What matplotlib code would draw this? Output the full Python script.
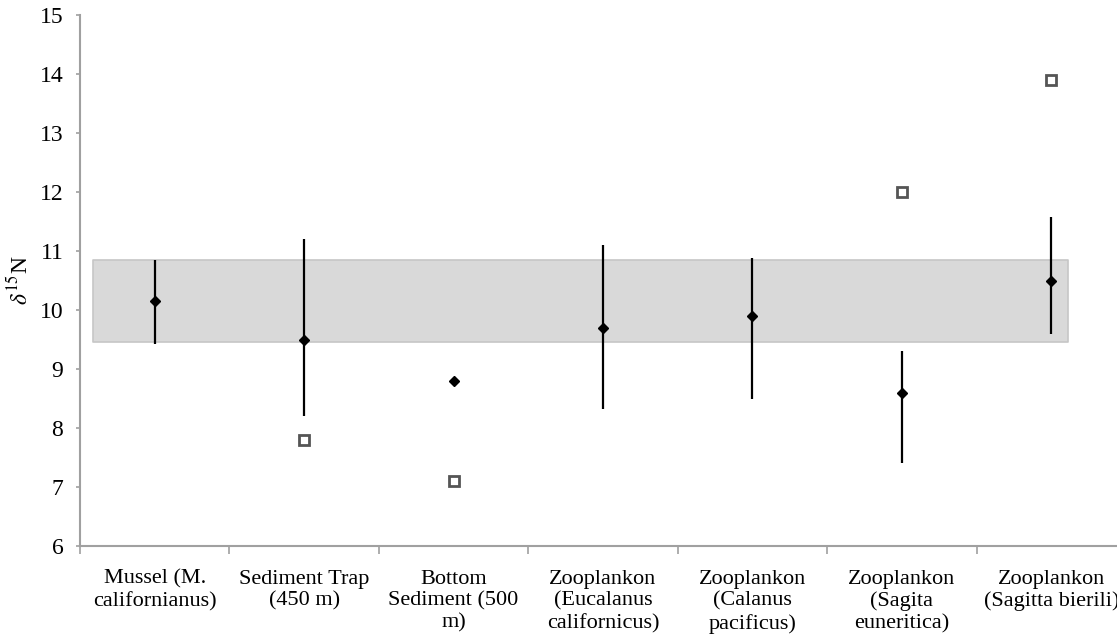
import matplotlib
matplotlib.use("Agg")
import matplotlib.pyplot as plt
import numpy as np

plt.rcParams['font.family'] = ['Liberation Serif', 'DejaVu Serif']
plt.rcParams['mathtext.fontset'] = 'stix'

categories = [
    "Mussel (M.\ncalifornianus)",
    "Sediment Trap\n(450 m)",
    "Bottom\nSediment (500\nm)",
    "Zooplankon\n(Eucalanus\ncalifornicus)",
    "Zooplankon\n(Calanus\npacificus)",
    "Zooplankon\n(Sagita\neuneritica)",
    "Zooplankon\n(Sagitta bierili)",
]
mean_values = [10.15, 9.5, 8.8, 9.7, 9.9, 8.6, 10.5]
err_low = [9.42, 8.2, 8.8, 8.32, 8.5, 7.4, 9.6]
err_high = [10.85, 11.2, 8.8, 11.1, 10.88, 9.3, 11.58]
other_idx = [1, 2, 5, 6]
other_values = [7.8, 7.1, 12.0, 13.9]
band_low, band_high = 9.45, 10.85
band_x = [-0.41, 6.11]
y_ticks = list(range(6, 16))

fig = plt.figure(figsize=(11.17, 6.4), dpi=100)
ax = fig.add_axes([80 / 1117, 94 / 640, 1046 / 1117, 531 / 640])

x = np.arange(len(categories))

ax.fill_between(band_x, band_low, band_high, facecolor='#d9d9d9',
                edgecolor='#c6c6c6', linewidth=1.2, zorder=1)

ax.vlines(x, err_low, err_high, colors='black', linewidth=1.6, zorder=2)
ax.plot(x, mean_values, linestyle='none', marker='D', markersize=5.5,
        color='black', zorder=3)
ax.plot(other_idx, other_values, linestyle='none', marker='s', markersize=7,
        markerfacecolor='white', markeredgecolor='#555555',
        markeredgewidth=2, zorder=3)

ax.set_xlim(-0.5, len(categories) - 0.5)
ax.set_ylim(6, 15)
ax.set_yticks(y_ticks)
ax.set_yticklabels([str(v) for v in y_ticks], fontsize=17)

ax.set_xticks(x)
ax.set_xticklabels(categories, fontsize=16, linespacing=1.2)
ax.set_xticks(np.arange(len(categories) + 1) - 0.5, minor=True)
ax.tick_params(axis='x', which='major', length=0, pad=17)
ax.tick_params(axis='x', which='minor', length=6, width=1.2, color='#a0a0a0')
ax.tick_params(axis='y', length=3, width=1.2, color='#a0a0a0', pad=9)

for side in ('top', 'right'):
    ax.spines[side].set_visible(False)
for side in ('left', 'bottom'):
    ax.spines[side].set_color('#a0a0a0')
    ax.spines[side].set_linewidth(1.5)

ax.set_ylabel(r'$\delta^{15}$N', fontsize=17)
ax.yaxis.set_label_coords(-0.045, 0.5)

fig.savefig('out.png', dpi=100)
